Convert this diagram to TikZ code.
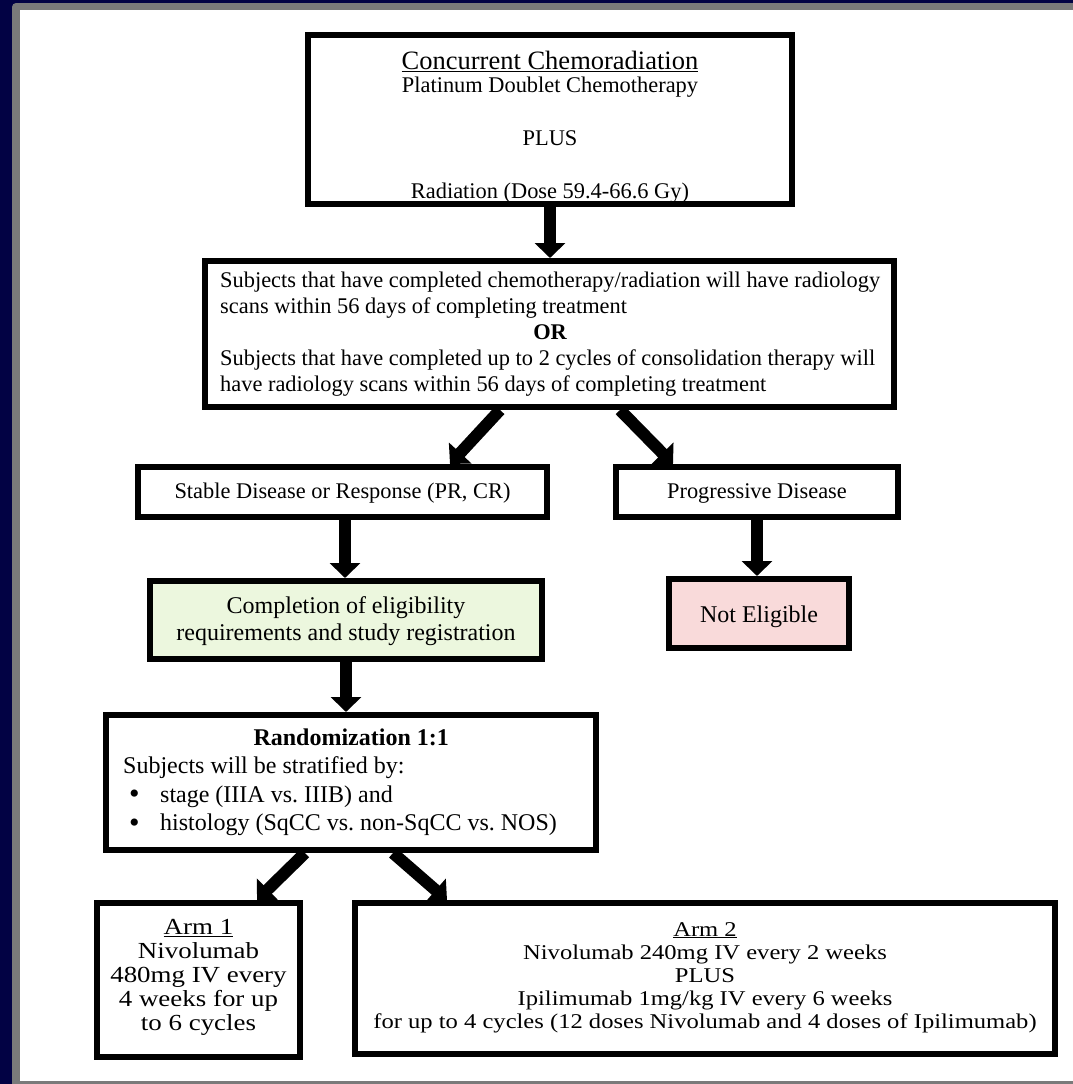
\documentclass[tikz,border=0pt]{standalone}
\usepackage{fontspec}
\setmainfont{Liberation Serif}
\newfontfamily\armfont[FakeStretch=1.17]{Liberation Serif}
\usetikzlibrary{arrows.meta,backgrounds}
\definecolor{navybg}{RGB}{2,2,68}
\definecolor{framegray}{RGB}{122,122,122}
\definecolor{greenfill}{RGB}{236,247,222}
\definecolor{pinkfill}{RGB}{249,218,218}
\newcommand{\bigbul}{\hspace*{6pt}\makebox[31pt][l]{\raisebox{-1.5pt}{\fontsize{30}{30}\selectfont\textbullet}}}
\begin{document}
\frenchspacing
\begin{tikzpicture}[x=1pt,y=-1pt,
  box/.style={draw=black, line width=6pt, fill=white, inner sep=0pt},
  txt/.style={inner sep=0pt, align=center},
  ltxt/.style={inner sep=0pt, align=left, anchor=west},
  arr/.style={line width=12pt, -{Triangle[width=30pt,length=15pt]}}]
\useasboundingbox (0,0) rectangle (1073,1084);

% boxes
\node[box, minimum width=484pt, minimum height=169pt] (b1) at (550,119.5) {};
\node[box, minimum width=689pt, minimum height=146pt] (b2) at (549.5,334) {};
\node[box, minimum width=409pt, minimum height=50pt] (b3) at (342.5,492) {};
\node[box, minimum width=282pt, minimum height=50pt] (b4) at (757,492) {};
\node[box, fill=greenfill, minimum width=392pt, minimum height=78pt] (b5) at (346,620) {};
\node[box, fill=pinkfill, minimum width=180pt, minimum height=69pt] (b6) at (759,613.5) {};
\node[box, minimum width=490pt, minimum height=135pt] (b7) at (351,782.5) {};
\node[box, minimum width=203pt, minimum height=154pt] (b8) at (198.5,980) {};
\node[box, minimum width=700pt, minimum height=151pt] (b9) at (705,978.5) {};

% texts
\node[txt, font=\fontsize{22.4}{26.5}\selectfont] (t1) at (550,127)
  {{\fontsize{26.5}{26.5}\selectfont\underline{Concurrent Chemoradiation}}\\[-3.5pt]
   Platinum Doublet Chemotherapy\\[26.5pt] PLUS\\[26.5pt] Radiation (Dose 59.4-66.6 Gy)};
\node[ltxt, font=\fontsize{22.4}{26}\selectfont] (t2) at (220,334.5)
  {Subjects that have completed chemotherapy/radiation will have radiology\\
   scans within 56 days of completing treatment\\
   \makebox[660pt]{\textbf{OR}}\\
   Subjects that have completed up to 2 cycles of consolidation therapy will\\
   have radiology scans within 56 days of completing treatment};
\node[txt, font=\fontsize{22.4}{26}\selectfont] (t3) at (342.5,493.5) {Stable Disease or Response (PR, CR)};
\node[txt, font=\fontsize{22.4}{26}\selectfont] (t4) at (757,493.5) {Progressive Disease};
\node[txt, font=\fontsize{24}{27}\selectfont] (t5) at (346,621) {Completion of eligibility\\requirements and study registration};
\node[txt, font=\fontsize{24}{27}\selectfont] (t6) at (759,616.7) {Not Eligible};
\node[ltxt, font=\fontsize{24}{28.5}\selectfont] (t7) at (123,782.5)
  {\makebox[456pt]{\textbf{Randomization 1:1}}\\
   Subjects will be stratified by:\\
   \bigbul stage (IIIA vs. IIIB) and\\
   \bigbul histology (SqCC vs. non-SqCC vs. NOS)};
\node[txt, font=\fontsize{23}{24}\armfont] (t8) at (198.5,977.5)
  {\underline{Arm 1}\\Nivolumab\\480mg IV every\\4 weeks for up\\to 6 cycles};
\node[txt, font=\fontsize{21}{23}\armfont] (t9) at (705,977.5)
  {\underline{Arm 2}\\Nivolumab 240mg IV every 2 weeks\\PLUS\\Ipilimumab 1mg/kg IV every 6 weeks\\for up to 4 cycles (12 doses Nivolumab and 4 doses of Ipilimumab)};

\begin{scope}[on background layer]
  \fill[navybg] (0,0) rectangle (1073,1084);
  \fill[framegray, rounded corners=4pt] (12,3) rectangle (1100,1090);
  \fill[white] (20,10) rectangle (1090,1081);
  \draw[arr] (b1.south) -- (b1.south |- b2.north);
  \draw[arr] ([xshift=-49.5pt]b2.south) -- ([xshift=107.5pt]b3.north);
  \draw[arr] ([xshift=70.5pt]b2.south) -- ([xshift=-84pt]b4.north);
  \draw[arr] ([xshift=2.5pt]b3.south) -- ([xshift=-1pt]b5.north);
  \draw[arr] (b4.south) -- ([xshift=-2pt]b6.north);
  \draw[arr] (b5.south) -- (b5.south |- b7.north);
  \draw[arr] ([xshift=-46pt]b7.south) -- ([xshift=58.5pt]b8.north);
  \draw[arr] ([xshift=42pt]b7.south) -- ([xshift=-258pt]b9.north);
\end{scope}
\end{tikzpicture}
\end{document}
